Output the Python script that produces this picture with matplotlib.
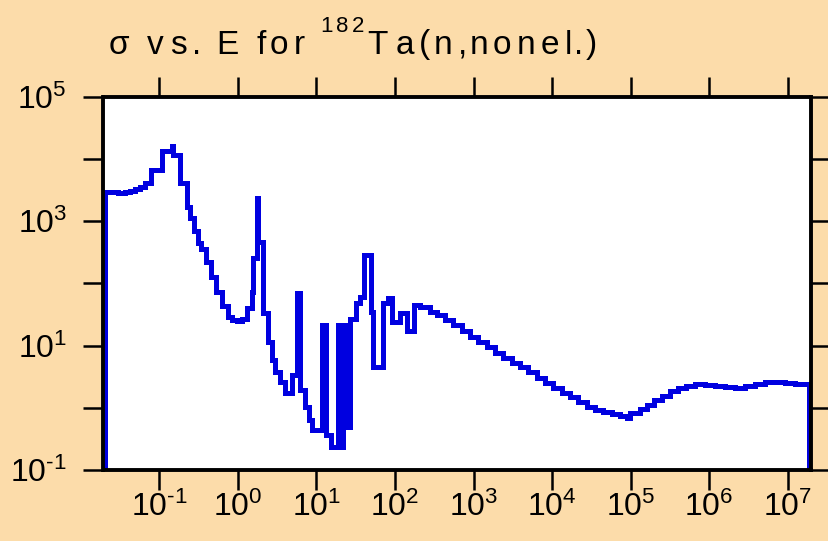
import matplotlib
matplotlib.use('Agg')
import matplotlib.pyplot as plt
from matplotlib import font_manager, ft2font
from matplotlib.ticker import NullLocator

plt.rcParams['font.family'] = ['Liberation Sans', 'DejaVu Sans']
plt.rcParams['mathtext.fontset'] = 'custom'
plt.rcParams['mathtext.rm'] = 'Liberation Sans'
plt.rcParams['mathtext.it'] = 'Liberation Sans:italic'
plt.rcParams['mathtext.bf'] = 'Liberation Sans:bold'

# Incident neutron energy (eV) where each step starts, and the cross section (b) on that step
energy = [0.0202, 0.0202, 0.0296, 0.0364, 0.0421, 0.0488, 0.0565, 0.0653, 0.078,
          0.1076, 0.144, 0.1486, 0.185, 0.224, 0.248, 0.275, 0.309, 0.338, 0.391,
          0.453, 0.525, 0.625, 0.746, 0.839, 0.97, 1.12, 1.30, 1.49, 1.57, 1.745,
          1.82, 2.11, 2.41, 2.71, 3.0, 3.43, 3.97, 4.88, 5.65, 6.17, 7.14, 7.91,
          8.77, 11.7, 13.2, 15.3, 18.8, 20.5, 21.8, 23.1, 24.5, 25.9, 26.7, 32.1,
          36.1, 40.5, 49.8, 52.8, 70.8, 81.9, 92.0, 116, 143, 175, 209, 280, 344,
          435, 550, 716, 905, 1150, 1490, 1880, 2380, 3100, 3920, 4950, 6440, 8140,
          1.03e4, 1.34e4, 1.69e4, 2.14e4, 2.79e4, 3.52e4, 4.46e4, 5.80e4, 7.33e4,
          9.0e4, 9.8e4, 1.32e5, 1.62e5, 1.99e5, 2.51e5, 3.17e5, 4.01e5, 5.07e5,
          6.59e5, 8.85e5, 1.19e6, 1.59e6, 2.13e6, 2.85e6, 3.83e6, 5.13e6, 6.87e6,
          9.2e6, 1.24e7, 1.82e7, 1.9e7]
sigma = [1e-3, 2880, 2830, 2880, 2990, 3220, 3470, 4020, 6500,
         13400, 16100, 11700, 4090, 1660, 1100, 682, 438, 351, 217,
         125, 72, 42.7, 28.5, 25.5, 24.5, 27, 39.7, 72, 252, 2310,
         455, 33, 11.3, 5.8, 3.73, 2.58, 1.72, 3.34, 69, 1.92, 1.01, 0.63,
         0.44, 21.2, 0.364, 0.234, 21.2, 0.234, 21.2, 0.49, 21.2, 0.49, 26.4, 47.8,
         59.6, 281, 34.3, 4.49, 47.8, 57.4, 23.7, 33, 17, 44, 41.2, 34.3, 30.6,
         25.5, 21.2, 17, 13.6, 11.3, 9.4, 7.5, 6.26, 5.2, 4.49, 3.73, 2.99, 2.49,
         2.07, 1.72, 1.48, 1.23, 1.02, 0.92, 0.85, 0.79, 0.73,
         0.68, 0.82, 0.95, 1.10, 1.33, 1.54, 1.85, 2.07, 2.22,
         2.39, 2.31, 2.22, 2.14, 2.07, 2.22, 2.39, 2.58, 2.58,
         2.49, 2.44, 2.44, 1e-3]

xtick_exp = [-1, 0, 1, 2, 3, 4, 5, 6, 7]
ytick_exp = [-1, 0, 1, 2, 3, 4, 5]
ylabel_exp = [-1, 1, 3, 5]

bg = '#FCDCAA'
W, H = 829, 541

fig = plt.figure(figsize=(W / 100, H / 100), dpi=100, facecolor=bg)
ax = fig.add_axes([103.5 / W, 1 - 470 / H, 707.5 / W, 373.5 / H])
ax.set_facecolor('white')

ax.step(energy, sigma, where='post', color='#0000E0', lw=3.6,
        solid_joinstyle='miter')

ax.set_xscale('log')
ax.set_yscale('log')
ax.set_xlim(0.01936, 1.99e7)
ax.set_ylim(1e-1, 1e5)


def power_label(e):
    # plain hyphen in the exponent instead of the wide math minus
    return '$10^{%s}$' % str(e).replace('-', '\u2010')


ax.set_xticks([10.0 ** e for e in xtick_exp])
ax.set_xticklabels([power_label(e) for e in xtick_exp])
ax.set_yticks([10.0 ** e for e in ytick_exp])
ax.set_yticklabels([power_label(e) if e in ylabel_exp else '' for e in ytick_exp])
ax.xaxis.set_minor_locator(NullLocator())
ax.yaxis.set_minor_locator(NullLocator())

ax.tick_params(which='major', direction='out', length=14.4, width=1.8,
               top=True, right=True, labeltop=False, labelright=False,
               labelsize=23, color='black')
ax.tick_params(axis='x', pad=1)
ax.tick_params(axis='y', pad=12)

for sp in ax.spines.values():
    sp.set_linewidth(2.8)

# title drawn glyph by glyph on widened advances
font = ft2font.FT2Font(font_manager.findfont('Liberation Sans'), hinting_factor=1)


def spread_text(x, y, s, size, stretch=1.32):
    font.set_size(size, fig.dpi)
    for c in s:
        fig.text(x / W, 1 - y / H, c, fontsize=size, ha='left', va='baseline')
        x += font.load_char(ord(c)).horiAdvance / 64 * stretch
    return x


x_end = spread_text(109, 53.5, 'σ vs. E for ', 24)
x_end = spread_text(x_end, 32.5, '182', 16)
spread_text(x_end, 53.5, 'Ta(n,nonel.)', 24)

fig.savefig('out.png', dpi=100, facecolor=bg)
